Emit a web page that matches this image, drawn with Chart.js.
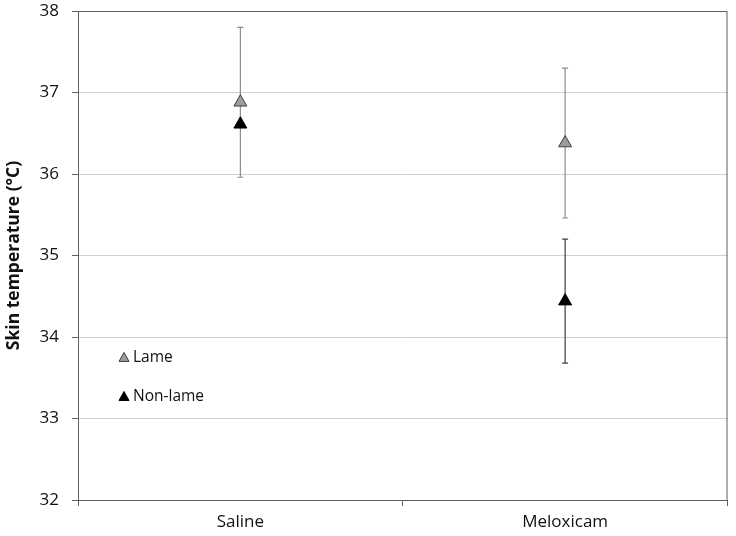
<!DOCTYPE html>
<html><head><meta charset="utf-8">
<script src="https://cdn.jsdelivr.net/npm/chart.js@4/dist/chart.umd.min.js"></script>
<style>html,body{margin:0;padding:0;background:#fff}#wrap{width:736px;height:536px}</style>
</head><body><div id="wrap"><canvas id="c" width="736" height="536"></canvas></div>
<script>
const categories = ["Saline", "Meloxicam"];
const lameMean = [36.88, 36.38];
const lameErr = [0.92, 0.92];
const nonLameMean = [36.61, 34.44];
const nonLameErr = [0, 0.76];
const yTicks = [32, 33, 34, 35, 36, 37, 38];
const FONT = "'Open Sans', sans-serif";

const errorBars = {
  id: 'errorBars',
  beforeDatasetsDraw(chart) {
    const ctx = chart.ctx, x = chart.scales.x, y = chart.scales.y;
    const sets = [
      {m: nonLameMean, e: nonLameErr, c: '#404040'},
      {m: lameMean, e: lameErr, c: '#8c8c8c'}
    ];
    ctx.save();
    sets.forEach(s => {
      ctx.strokeStyle = s.c; ctx.lineWidth = 1.2;
      s.m.forEach((v, i) => {
        if (!s.e[i]) return;
        const px = x.getPixelForValue(i);
        const top = y.getPixelForValue(v + s.e[i]);
        const bot = y.getPixelForValue(v - s.e[i]);
        ctx.beginPath();
        ctx.moveTo(px, top); ctx.lineTo(px, bot);
        ctx.moveTo(px - 3, top); ctx.lineTo(px + 3, top);
        ctx.moveTo(px - 3, bot); ctx.lineTo(px + 3, bot);
        ctx.stroke();
      });
    });
    ctx.restore();
  }
};

const frame = {
  id: 'frame',
  beforeDatasetsDraw(chart) {
    const ctx = chart.ctx, a = chart.chartArea;
    ctx.save();
    ctx.strokeStyle = '#606060'; ctx.lineWidth = 1;
    ctx.beginPath();
    ctx.moveTo(a.left, a.top + 0.5); ctx.lineTo(a.right - 0.5, a.top + 0.5);
    ctx.lineTo(a.right - 0.5, a.bottom);
    ctx.stroke();
    ctx.restore();
  }
};

const innerLegend = {
  id: 'innerLegend',
  afterDraw(chart) {
    const ctx = chart.ctx, a = chart.chartArea, y = chart.scales.y;
    const items = [
      {t: 'Lame', fill: '#9c9c9c', stroke: '#404040', v: 33.75},
      {t: 'Non-lame', fill: '#000', stroke: '#000', v: 33.27}
    ];
    ctx.save();
    ctx.font = "15.5px " + FONT;
    ctx.textBaseline = 'middle';
    items.forEach(it => {
      const cy = y.getPixelForValue(it.v);
      const cx = a.left + 46;
      ctx.beginPath();
      ctx.moveTo(cx, cy - 5); ctx.lineTo(cx + 5, cy + 4); ctx.lineTo(cx - 5, cy + 4); ctx.closePath();
      ctx.fillStyle = it.fill; ctx.fill();
      ctx.strokeStyle = it.stroke; ctx.lineWidth = 1; ctx.stroke();
      ctx.fillStyle = '#111';
      ctx.fillText(it.t, cx + 9, cy);
    });
    ctx.restore();
  }
};

new Chart(document.getElementById('c'), {
  type: 'line',
  data: {
    labels: categories,
    datasets: [
      {label: 'Non-lame', data: nonLameMean, showLine: false, pointStyle: 'triangle',
       pointRadius: 7.5, pointBackgroundColor: '#000', pointBorderColor: '#000', pointBorderWidth: 1},
      {label: 'Lame', data: lameMean, showLine: false, pointStyle: 'triangle',
       pointRadius: 7.5, pointBackgroundColor: '#9c9c9c', pointBorderColor: '#404040', pointBorderWidth: 1}
    ]
  },
  options: {
    responsive: false, animation: false,
    layout: {padding: {left: 0, right: 8, top: 11, bottom: 0}},
    plugins: {legend: {display: false}, tooltip: {enabled: false}},
    scales: {
      x: {
        type: 'category', offset: true,
        grid: {offset: true, drawOnChartArea: false, tickLength: 6, tickColor: '#606060'},
        border: {color: '#606060'},
        ticks: {font: {family: FONT, size: 17}, color: '#111', padding: 6},
        afterFit: s => { s.height = 36; s.paddingLeft = 0; s.paddingRight = 0; }
      },
      y: {
        min: 32, max: 38,
        afterBuildTicks: s => { s.ticks = yTicks.map(v => ({value: v})); },
        grid: {color: '#d0d0d0', tickLength: 6, tickColor: '#606060'},
        border: {color: '#606060'},
        ticks: {font: {family: FONT, size: 17}, color: '#111', padding: 13},
        title: {display: true, text: 'Skin temperature (°C)', font: {family: FONT, size: 17.5, weight: 'bold'}, color: '#111', padding: 4},
        afterFit: s => { s.width = 78; s.paddingTop = 0; s.paddingBottom = 0; }
      }
    }
  },
  plugins: [frame, errorBars, innerLegend]
});
</script></body></html>
